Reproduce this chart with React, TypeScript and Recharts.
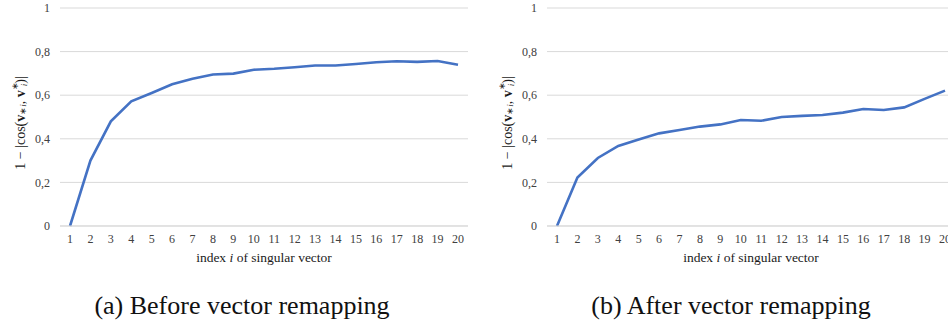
import { CartesianGrid, Label, Line, LineChart, XAxis, YAxis } from "recharts";

const indices = ["1", "2", "3", "4", "5", "6", "7", "8", "9", "10", "11", "12", "13", "14", "15", "16", "17", "18", "19", "20"];
const beforeRemap = [0, 0.3, 0.48, 0.572, 0.61, 0.65, 0.675, 0.695, 0.699, 0.717, 0.721, 0.728, 0.736, 0.736, 0.743, 0.751, 0.756, 0.753, 0.757, 0.74];
const afterRemap = [0, 0.222, 0.312, 0.367, 0.397, 0.425, 0.44, 0.456, 0.466, 0.486, 0.483, 0.5, 0.505, 0.509, 0.52, 0.537, 0.532, 0.544, 0.583, 0.621];
const yTicks = [0, 0.2, 0.4, 0.6, 0.8, 1];
const captions = ["(a) Before vector remapping", "(b) After vector remapping"];

const serif = "'Liberation Serif', 'Times New Roman', Times, serif";
const tickStyle = { fill: "#404040", fontSize: 12, fontFamily: serif };

function XLabel(props: any) {
  const { x, y, width } = props.viewBox;
  return (
    <text x={x + width / 2} y={y + 36} textAnchor="middle" style={{ fontFamily: serif }} fontSize={13.5} fill="#1a1a1a">
      index <tspan fontStyle="italic">i</tspan> of singular vector
    </text>
  );
}

function YLabel(props: any) {
  const { y, height } = props.viewBox;
  const cx = 20;
  const cy = y + height / 2 + 6;
  return (
    <text
      x={cx}
      y={cy}
      textAnchor="middle"
      dominantBaseline="central"
      transform={`rotate(-90, ${cx}, ${cy})`}
      style={{ fontFamily: serif }}
      fontSize={14}
      fill="#1a1a1a"
    >
      1 − |cos(<tspan fontWeight="bold">v</tspan>
      <tspan fontSize={9} dy={3}>∗<tspan fontStyle="italic">i</tspan></tspan>
      <tspan dy={-3}>, </tspan>
      <tspan fontWeight="bold">v</tspan>
      <tspan fontSize={9} dy={-5}>∗</tspan>
      <tspan fontSize={9} fontStyle="italic" dx={-4} dy={9}>i</tspan>
      <tspan dy={-4}>)|</tspan>
    </text>
  );
}

function Panel({ values, left }: { values: number[]; left: number }) {
  const data = indices.map((idx, i) => ({ idx, v: values[i] }));
  return (
    <div style={{ position: "absolute", left, top: 0 }}>
      <LineChart width={470} height={270} data={data} margin={{ top: 8, right: 2, bottom: 0, left: 0 }} style={{ fontFamily: serif }}>
        <CartesianGrid vertical={false} stroke="#D9D9D9" />
        <XAxis
          dataKey="idx"
          interval={0}
          padding={{ left: 10, right: 10 }}
          height={44}
          axisLine={{ stroke: "#D9D9D9" }}
          tickLine={false}
          tick={tickStyle}
        >
          <Label content={XLabel} />
        </XAxis>
        <YAxis
          domain={[0, 1]}
          ticks={yTicks}
          tickFormatter={(v: number) => String(v).replace(".", ",")}
          width={60}
          axisLine={false}
          tickLine={false}
          tickMargin={4}
          tick={tickStyle}
        >
          <Label content={YLabel} />
        </YAxis>
        <Line dataKey="v" stroke="#4472C4" strokeWidth={2.6} dot={false} isAnimationActive={false} />
      </LineChart>
    </div>
  );
}

const captionStyle = {
  position: "absolute" as const,
  top: 291,
  transform: "translateX(-50%)",
  whiteSpace: "nowrap" as const,
  fontSize: 26,
  color: "#111",
};

export default function App() {
  return (
    <div style={{ position: "fixed", left: 0, top: 0, width: 948, height: 328, overflow: "hidden", background: "#fff", fontFamily: serif }}>
      <Panel values={beforeRemap} left={0} />
      <Panel values={afterRemap} left={487} />
      <div style={{ ...captionStyle, left: 242 }}>{captions[0]}</div>
      <div style={{ ...captionStyle, left: 731 }}>{captions[1]}</div>
    </div>
  );
}
